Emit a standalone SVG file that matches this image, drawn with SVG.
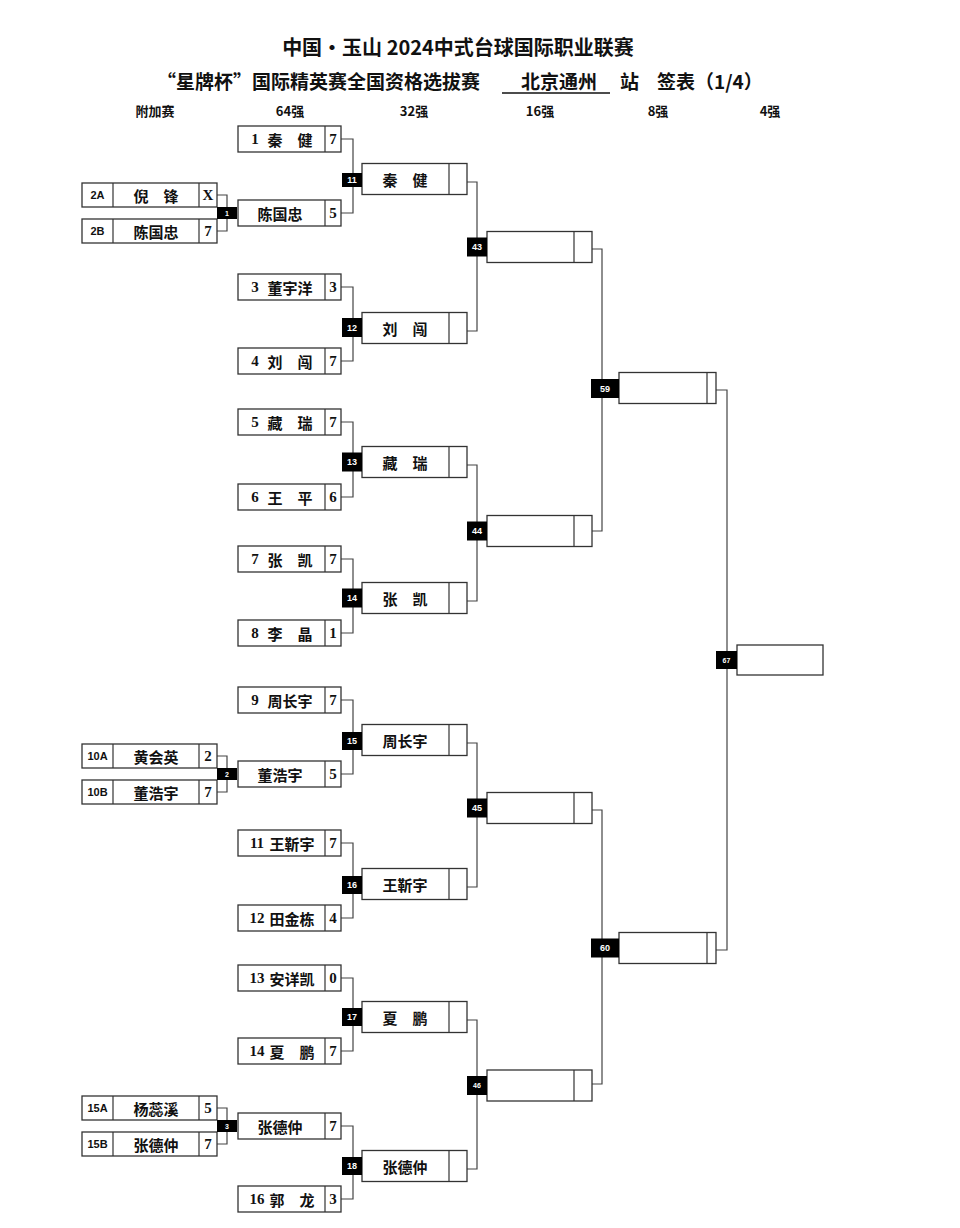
<svg xmlns="http://www.w3.org/2000/svg" width="960" height="1228" viewBox="0 0 960 1228">
<style>
.bx{fill:#fff;stroke:#333;stroke-width:1.3}
.dv{stroke:#333;stroke-width:1.2}
.cn{fill:none;stroke:#444;stroke-width:1.2}
.tg{fill:#000}
.cj{font-family:"Noto Sans CJK SC","Noto Sans",sans-serif;font-weight:bold;font-size:15px;fill:#111;text-anchor:middle;dominant-baseline:central}
.nm{font-family:"Liberation Serif","DejaVu Serif",serif;font-weight:bold;font-size:15px;fill:#111;text-anchor:middle;dominant-baseline:central}
.sl{font-family:"Liberation Sans",Arial,sans-serif;font-weight:bold;font-size:11px;fill:#111;text-anchor:middle;dominant-baseline:central}
.lb{font-family:"Liberation Sans",Arial,sans-serif;font-weight:bold;font-size:9px;fill:#fff;text-anchor:middle;dominant-baseline:central}
.lbs{font-size:7px}
.t1{font-family:"Noto Sans CJK SC","Noto Sans",sans-serif;font-weight:bold;font-size:20px;fill:#111}
.t2{font-family:"Noto Sans CJK SC","Noto Sans",sans-serif;font-weight:bold;font-size:19px;fill:#111}
.hd{font-family:"Noto Sans CJK SC","Noto Sans",sans-serif;font-weight:bold;font-size:13px;fill:#111;text-anchor:middle}
</style>

<g id="title">
<text class="t1" x="458" y="55" text-anchor="middle">中国•玉山 2024中式台球国际职业联赛</text>
<text class="t2" x="157" y="89">“星牌杯”国际精英赛全国资格选拔赛</text>
<text class="t2" x="521" y="89">北京通州</text>
<line x1="502" y1="93" x2="610" y2="93" stroke="#111" stroke-width="1.3"/>
<text class="t2" x="620" y="89">站</text>
<text class="t2" x="657" y="89">签表（1/4）</text>
</g>
<g id="headers">
<text class="hd" x="155" y="116">附加赛</text>
<text class="hd" x="290" y="116">64强</text>
<text class="hd" x="414" y="116">32强</text>
<text class="hd" x="540" y="116">16强</text>
<text class="hd" x="658" y="116">8强</text>
<text class="hd" x="770" y="116">4强</text>
</g>

<g id="connectors">
<path class="cn" d="M217,195 H227 V231 H217"/>
<path class="cn" d="M217,756 H227 V792 H217"/>
<path class="cn" d="M217,1108 H227 V1144 H217"/>
<path class="cn" d="M341,139 H353 V213 H341"/>
<path class="cn" d="M341,287 H353 V361 H341"/>
<path class="cn" d="M341,422 H353 V497 H341"/>
<path class="cn" d="M341,559 H353 V633 H341"/>
<path class="cn" d="M341,700 H353 V774 H341"/>
<path class="cn" d="M341,843 H353 V918 H341"/>
<path class="cn" d="M341,978 H353 V1051 H341"/>
<path class="cn" d="M341,1126 H353 V1199 H341"/>
<path class="cn" d="M467,182 H477 V331 H467"/>
<path class="cn" d="M467,465 H477 V601 H467"/>
<path class="cn" d="M467,743 H477 V887 H467"/>
<path class="cn" d="M467,1020 H477 V1169 H467"/>
<path class="cn" d="M592,249 H602 V531 H592"/>
<path class="cn" d="M592,810 H602 V1084 H592"/>
<path class="cn" d="M716,390 H727 V950 H716"/>
</g>

<!-- preliminary round -->
<g id="p2A"><rect class="bx" x="82" y="183" width="135" height="24"/><line class="dv" x1="113" y1="183" x2="113" y2="207"/><line class="dv" x1="199" y1="183" x2="199" y2="207"/><text class="sl" x="97.5" y="195">2A</text><text class="cj" x="156" y="195">倪　锋</text><text class="nm" x="208" y="195">X</text></g>
<g id="p2B"><rect class="bx" x="82" y="219" width="135" height="24"/><line class="dv" x1="113" y1="219" x2="113" y2="243"/><line class="dv" x1="199" y1="219" x2="199" y2="243"/><text class="sl" x="97.5" y="231">2B</text><text class="cj" x="156" y="231">陈国忠</text><text class="nm" x="208" y="231">7</text></g>
<g id="p10A"><rect class="bx" x="82" y="744" width="135" height="24"/><line class="dv" x1="113" y1="744" x2="113" y2="768"/><line class="dv" x1="199" y1="744" x2="199" y2="768"/><text class="sl" x="97.5" y="756">10A</text><text class="cj" x="156" y="756">黄会英</text><text class="nm" x="208" y="756">2</text></g>
<g id="p10B"><rect class="bx" x="82" y="780" width="135" height="24"/><line class="dv" x1="113" y1="780" x2="113" y2="804"/><line class="dv" x1="199" y1="780" x2="199" y2="804"/><text class="sl" x="97.5" y="792">10B</text><text class="cj" x="156" y="792">董浩宇</text><text class="nm" x="208" y="792">7</text></g>
<g id="p15A"><rect class="bx" x="82" y="1096" width="135" height="24"/><line class="dv" x1="113" y1="1096" x2="113" y2="1120"/><line class="dv" x1="199" y1="1096" x2="199" y2="1120"/><text class="sl" x="97.5" y="1108">15A</text><text class="cj" x="156" y="1108">杨蕊溪</text><text class="nm" x="208" y="1108">5</text></g>
<g id="p15B"><rect class="bx" x="82" y="1132" width="135" height="24"/><line class="dv" x1="113" y1="1132" x2="113" y2="1156"/><line class="dv" x1="199" y1="1132" x2="199" y2="1156"/><text class="sl" x="97.5" y="1144">15B</text><text class="cj" x="156" y="1144">张德仲</text><text class="nm" x="208" y="1144">7</text></g>
<g id="m1"><rect class="tg" x="217" y="207" width="20" height="12"/><text class="lb lbs" x="227" y="213">1</text></g>
<g id="m2"><rect class="tg" x="217" y="768" width="20" height="12"/><text class="lb lbs" x="227" y="774">2</text></g>
<g id="m3"><rect class="tg" x="217" y="1120" width="20" height="12"/><text class="lb lbs" x="227" y="1126">3</text></g>

<!-- round of 64 -->
<g id="s1"><rect class="bx" x="238" y="126" width="103" height="26"/><line class="dv" x1="325" y1="126" x2="325" y2="152"/><text class="nm" x="255" y="139">1</text><text class="cj" x="290" y="139">秦　健</text><text class="nm" x="333" y="139">7</text></g>
<g id="s2"><rect class="bx" x="238" y="200" width="103" height="26"/><line class="dv" x1="325" y1="200" x2="325" y2="226"/><text class="cj" x="280" y="213">陈国忠</text><text class="nm" x="333" y="213">5</text></g>
<g id="s3"><rect class="bx" x="238" y="274" width="103" height="26"/><line class="dv" x1="325" y1="274" x2="325" y2="300"/><text class="nm" x="255" y="287">3</text><text class="cj" x="290" y="287">董宇洋</text><text class="nm" x="333" y="287">3</text></g>
<g id="s4"><rect class="bx" x="238" y="348" width="103" height="26"/><line class="dv" x1="325" y1="348" x2="325" y2="374"/><text class="nm" x="255" y="361">4</text><text class="cj" x="290" y="361">刘　闯</text><text class="nm" x="333" y="361">7</text></g>
<g id="s5"><rect class="bx" x="238" y="409" width="103" height="26"/><line class="dv" x1="325" y1="409" x2="325" y2="435"/><text class="nm" x="255" y="422">5</text><text class="cj" x="290" y="422">藏　瑞</text><text class="nm" x="333" y="422">7</text></g>
<g id="s6"><rect class="bx" x="238" y="484" width="103" height="26"/><line class="dv" x1="325" y1="484" x2="325" y2="510"/><text class="nm" x="255" y="497">6</text><text class="cj" x="290" y="497">王　平</text><text class="nm" x="333" y="497">6</text></g>
<g id="s7"><rect class="bx" x="238" y="546" width="103" height="26"/><line class="dv" x1="325" y1="546" x2="325" y2="572"/><text class="nm" x="255" y="559">7</text><text class="cj" x="290" y="559">张　凯</text><text class="nm" x="333" y="559">7</text></g>
<g id="s8"><rect class="bx" x="238" y="620" width="103" height="26"/><line class="dv" x1="325" y1="620" x2="325" y2="646"/><text class="nm" x="255" y="633">8</text><text class="cj" x="290" y="633">李　晶</text><text class="nm" x="333" y="633">1</text></g>
<g id="s9"><rect class="bx" x="238" y="687" width="103" height="26"/><line class="dv" x1="325" y1="687" x2="325" y2="713"/><text class="nm" x="255" y="700">9</text><text class="cj" x="290" y="700">周长宇</text><text class="nm" x="333" y="700">7</text></g>
<g id="s10"><rect class="bx" x="238" y="761" width="103" height="26"/><line class="dv" x1="325" y1="761" x2="325" y2="787"/><text class="cj" x="280" y="774">董浩宇</text><text class="nm" x="333" y="774">5</text></g>
<g id="s11"><rect class="bx" x="238" y="830" width="103" height="26"/><line class="dv" x1="325" y1="830" x2="325" y2="856"/><text class="nm" x="257" y="843">11</text><text class="cj" x="292" y="843">王靳宇</text><text class="nm" x="333" y="843">7</text></g>
<g id="s12"><rect class="bx" x="238" y="905" width="103" height="26"/><line class="dv" x1="325" y1="905" x2="325" y2="931"/><text class="nm" x="257" y="918">12</text><text class="cj" x="292" y="918">田金栋</text><text class="nm" x="333" y="918">4</text></g>
<g id="s13"><rect class="bx" x="238" y="965" width="103" height="26"/><line class="dv" x1="325" y1="965" x2="325" y2="991"/><text class="nm" x="257" y="978">13</text><text class="cj" x="292" y="978">安详凯</text><text class="nm" x="333" y="978">0</text></g>
<g id="s14"><rect class="bx" x="238" y="1038" width="103" height="26"/><line class="dv" x1="325" y1="1038" x2="325" y2="1064"/><text class="nm" x="257" y="1051">14</text><text class="cj" x="292" y="1051">夏　鹏</text><text class="nm" x="333" y="1051">7</text></g>
<g id="s15"><rect class="bx" x="238" y="1113" width="103" height="26"/><line class="dv" x1="325" y1="1113" x2="325" y2="1139"/><text class="cj" x="280" y="1126">张德仲</text><text class="nm" x="333" y="1126">7</text></g>
<g id="s16"><rect class="bx" x="238" y="1186" width="103" height="26"/><line class="dv" x1="325" y1="1186" x2="325" y2="1212"/><text class="nm" x="257" y="1199">16</text><text class="cj" x="292" y="1199">郭　龙</text><text class="nm" x="333" y="1199">3</text></g>

<!-- round of 32 -->
<g id="r11"><rect class="bx" x="362" y="163.5" width="105" height="31"/><line class="dv" x1="449" y1="163.5" x2="449" y2="194.5"/><text class="cj" x="405" y="179">秦　健</text><rect class="tg" x="342" y="173" width="20" height="14"/><text class="lb" x="352" y="180">11</text></g>
<g id="r12"><rect class="bx" x="362" y="312.5" width="105" height="31"/><line class="dv" x1="449" y1="312.5" x2="449" y2="343.5"/><text class="cj" x="405" y="328">刘　闯</text><rect class="tg" x="342" y="318" width="20" height="19"/><text class="lb" x="352" y="327.5">12</text></g>
<g id="r13"><rect class="bx" x="362" y="446.5" width="105" height="31"/><line class="dv" x1="449" y1="446.5" x2="449" y2="477.5"/><text class="cj" x="405" y="462">藏　瑞</text><rect class="tg" x="342" y="452.5" width="20" height="19"/><text class="lb" x="352" y="462">13</text></g>
<g id="r14"><rect class="bx" x="362" y="582.5" width="105" height="31"/><line class="dv" x1="449" y1="582.5" x2="449" y2="613.5"/><text class="cj" x="405" y="598">张　凯</text><rect class="tg" x="342" y="588.5" width="20" height="19"/><text class="lb" x="352" y="598">14</text></g>
<g id="r15"><rect class="bx" x="362" y="724.5" width="105" height="31"/><line class="dv" x1="449" y1="724.5" x2="449" y2="755.5"/><text class="cj" x="405" y="740">周长宇</text><rect class="tg" x="342" y="732" width="20" height="18"/><text class="lb" x="352" y="741">15</text></g>
<g id="r16"><rect class="bx" x="362" y="868.5" width="105" height="31"/><line class="dv" x1="449" y1="868.5" x2="449" y2="899.5"/><text class="cj" x="405" y="884">王靳宇</text><rect class="tg" x="342" y="876" width="20" height="18"/><text class="lb" x="352" y="885">16</text></g>
<g id="r17"><rect class="bx" x="362" y="1001.5" width="105" height="31"/><line class="dv" x1="449" y1="1001.5" x2="449" y2="1032.5"/><text class="cj" x="405" y="1017">夏　鹏</text><rect class="tg" x="342" y="1008" width="20" height="18"/><text class="lb" x="352" y="1017">17</text></g>
<g id="r18"><rect class="bx" x="362" y="1150.5" width="105" height="31"/><line class="dv" x1="449" y1="1150.5" x2="449" y2="1181.5"/><text class="cj" x="405" y="1166">张德仲</text><rect class="tg" x="342" y="1157" width="20" height="18"/><text class="lb" x="352" y="1166">18</text></g>

<!-- round of 16 -->
<g id="r43"><rect class="bx" x="487" y="231.5" width="105" height="31"/><line class="dv" x1="574" y1="231.5" x2="574" y2="262.5"/><rect class="tg" x="467" y="237.5" width="20" height="19"/><text class="lb" x="477" y="247">43</text></g>
<g id="r44"><rect class="bx" x="487" y="515.5" width="105" height="31"/><line class="dv" x1="574" y1="515.5" x2="574" y2="546.5"/><rect class="tg" x="467" y="521.5" width="20" height="19"/><text class="lb" x="477" y="531">44</text></g>
<g id="r45"><rect class="bx" x="487" y="792.5" width="105" height="31"/><line class="dv" x1="574" y1="792.5" x2="574" y2="823.5"/><rect class="tg" x="467" y="798.5" width="20" height="19"/><text class="lb" x="477" y="808">45</text></g>
<g id="r46"><rect class="bx" x="487" y="1070" width="105" height="31"/><line class="dv" x1="574" y1="1070" x2="574" y2="1101"/><rect class="tg" x="467" y="1076" width="20" height="19"/><text class="lb lbs" x="477" y="1085.5">46</text></g>

<!-- quarter finals -->
<g id="r59"><rect class="bx" x="619" y="372.5" width="97" height="31"/><line class="dv" x1="707" y1="372.5" x2="707" y2="403.5"/><rect class="tg" x="591" y="379" width="28" height="19"/><text class="lb" x="605" y="388.5">59</text></g>
<g id="r60"><rect class="bx" x="619" y="932.5" width="97" height="31"/><line class="dv" x1="707" y1="932.5" x2="707" y2="963.5"/><rect class="tg" x="591" y="938.5" width="28" height="19"/><text class="lb" x="605" y="948">60</text></g>

<!-- semi final slot -->
<g id="r67"><rect class="bx" x="737" y="645" width="86" height="30"/><rect class="tg" x="716" y="651" width="21" height="18"/><text class="lb lbs" x="726.5" y="660">67</text></g>
</svg>
